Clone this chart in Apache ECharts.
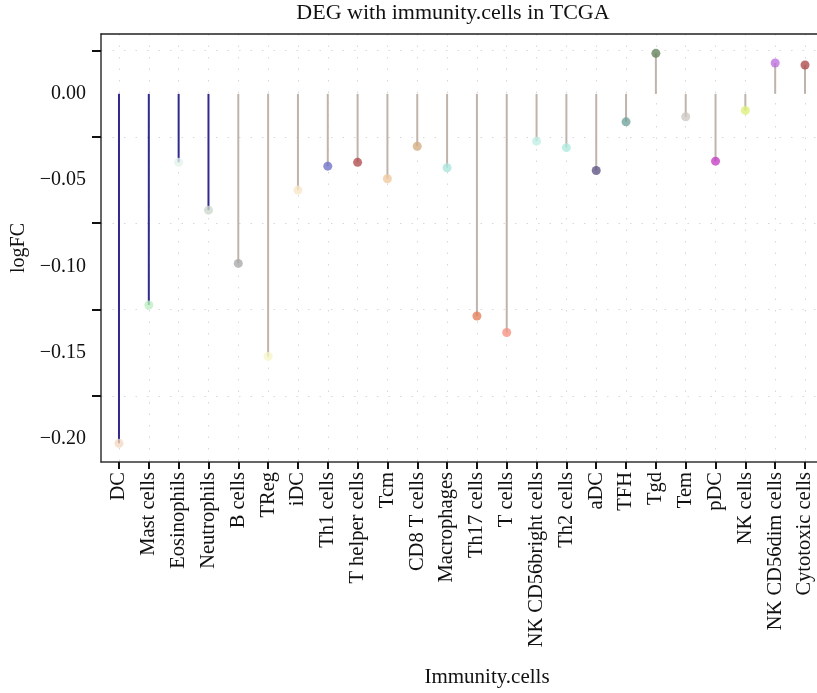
<!DOCTYPE html>
<html>
<head>
<meta charset="utf-8">
<script src="https://cdn.jsdelivr.net/npm/echarts@6/dist/echarts.min.js"></script>
<style>html,body{margin:0;padding:0;background:#fff}#c{width:817px;height:693px}</style>
</head>
<body>
<div id="c"></div>
<script>
const categories = ["DC","Mast cells","Eosinophils","Neutrophils","B cells","TReg","iDC","Th1 cells","T helper cells","Tcm","CD8 T cells","Macrophages","Th17 cells","T cells","NK CD56bright cells","Th2 cells","aDC","TFH","Tgd","Tem","pDC","NK cells","NK CD56dim cells","Cytotoxic cells"];
const logFC = [-0.2026,-0.1224,-0.0397,-0.0674,-0.0983,-0.1522,-0.0558,-0.0419,-0.0397,-0.0492,-0.0304,-0.0428,-0.1288,-0.1383,-0.0274,-0.0312,-0.0444,-0.0162,0.0235,-0.0133,-0.0390,-0.0096,0.0179,0.0167];
const stemGroup = [1,1,1,1,0,0,0,0,0,0,0,0,0,0,0,0,0,0,0,0,0,0,0,0];
const dotColors = ["#f3d9c2","#bdeec0","#e3f3ea","#ccd8cc","#a9a9a9","#f5f5c8","#f9e6c8","#6f6fc9","#b04c4c","#f0c99f","#d4ad82","#a9e6dc","#e47e58","#f69281","#bfeee6","#aeeadf","#5c5382","#6ea39c","#64805a","#cdc8c3","#c43cc4","#def07a","#bd6ddf","#ac4a4a"];
const yLabelValues = [0,-0.05,-0.10,-0.15,-0.20];
const yTickValues = [0.025,-0.025,-0.075,-0.125,-0.175];

const stemColors = ["#bfb4ab","#2f2a8e"];
const FONT = "Liberation Serif";
const chart = echarts.init(document.getElementById('c'), null, {renderer:'canvas'});
const idx = categories.map((c,i)=>i);
const fmtY = v => (v<0?'\u2212':'') + Math.abs(v).toFixed(2);
const axisDark = {color:'#333', width:1.5};

chart.setOption({
  animation:false,
  backgroundColor:'#fff',
  grid:{left:101, top:34, right:0, bottom:231, show:false, containLabel:false},
  graphic:[
    {type:'text', x:453, y:13, style:{text:'DEG with immunity.cells in TCGA', align:'center', verticalAlign:'middle', font:'22px "Liberation Serif"', fill:'#111'}},
    {type:'text', x:487, y:677, style:{text:'Immunity.cells', align:'center', verticalAlign:'middle', font:'21px "Liberation Serif"', fill:'#111'}}
  ],
  xAxis:[{
    type:'value', min:-0.603, max:23.402,
    axisLine:{show:true, onZero:false, lineStyle:axisDark},
    axisTick:{show:true, customValues:idx, length:7, lineStyle:{color:'#111', width:2}},
    axisLabel:{customValues:idx, rotate:90, margin:10, fontFamily:FONT, fontSize:20.5, color:'#111', formatter:v=>categories[Math.round(v)]},
    splitLine:{show:true, lineStyle:{color:'#d8d8d8', type:[1.5,10], width:1}}
  },{
    type:'value', min:-0.603, max:23.402, position:'top',
    axisLine:{show:true, onZero:false, lineStyle:{color:'#222', width:1.5}},
    axisTick:{show:false}, axisLabel:{show:false}, splitLine:{show:false}
  }],
  yAxis:{
    type:'value', min:-0.2134, max:0.0347,
    name:'logFC', nameLocation:'middle', nameGap:63,
    nameTextStyle:{fontFamily:FONT, fontSize:20, color:'#111'},
    axisLine:{show:true, onZero:false, lineStyle:axisDark},
    axisTick:{show:true, customValues:yTickValues, length:9, lineStyle:{color:'#111', width:2}},
    axisLabel:{customValues:yLabelValues, margin:15, fontFamily:FONT, fontSize:20, color:'#111', formatter:fmtY, padding:[0,0,6,0]},
    splitLine:{show:true, lineStyle:{color:'#d8d8d8', type:[1.5,10], width:1}}
  },
  series:[
    {
      type:'custom',
      data: idx.map(i=>[i, logFC[i]]),
      z:2,
      renderItem:(params, api)=>{
        const i = api.value(0), v = api.value(1);
        const p0 = api.coord([i,0]), p1 = api.coord([i,v]);
        return {type:'line', shape:{x1:p0[0],y1:p0[1],x2:p1[0],y2:p1[1]}, style:{stroke:stemColors[stemGroup[params.dataIndex]], lineWidth:2}};
      }
    },
    {
      type:'scatter',
      z:3,
      symbolSize:9,
      data: idx.map(i=>({value:[i, logFC[i]], itemStyle:{color:dotColors[i], opacity:0.78}}))
    }
  ]
});
</script>
</body>
</html>
